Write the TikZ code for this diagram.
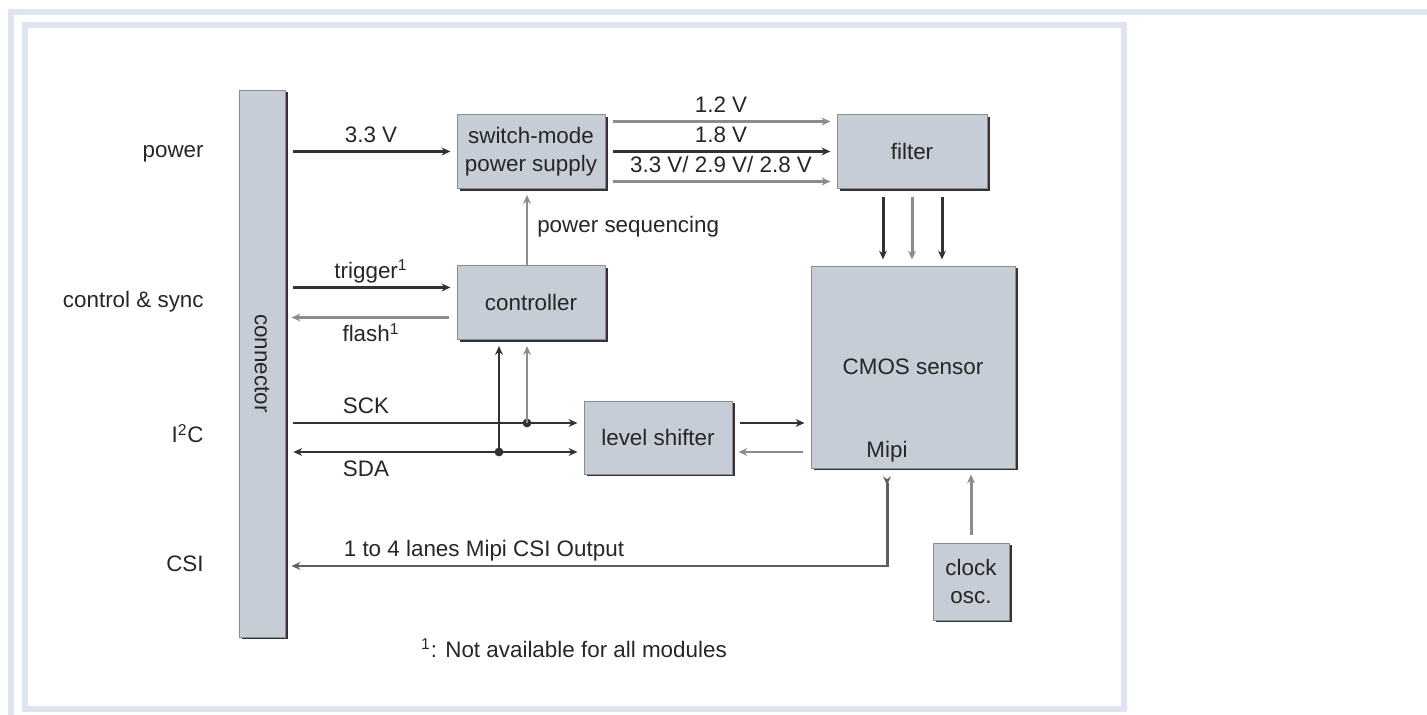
\documentclass[tikz,border=0pt]{standalone}
\usepackage{fontspec}
\setmainfont{Liberation Sans}
\usepackage{graphicx}
\usetikzlibrary{arrows.meta, positioning, calc, shadows}
\definecolor{boxgrey}{RGB}{198,205,214}
\definecolor{framegrey}{RGB}{223,229,240}
\definecolor{wiredark}{RGB}{50,50,50}
\definecolor{wiremid}{RGB}{95,95,95}
\definecolor{wirelight}{RGB}{140,140,140}

\begin{document}
\begin{tikzpicture}[
    font=\fontsize{12.75}{16}\selectfont, text=black!85,
    >={Stealth[length=5pt, width=4.5pt]},
    blk/.style={rectangle, draw=black!45, line width=0.5pt, fill=boxgrey,
                align=center, inner sep=2pt,
                drop shadow={shadow xshift=1.7pt, shadow yshift=-1.4pt,
                             fill=black!80, opacity=1}},
    sig/.style={line width=1.7pt, ->, shorten <=4.5pt, shorten >=3.5pt},
    drk/.style={draw=wiredark},
    mid/.style={draw=wiremid},
    lgt/.style={draw=wirelight},
    lbl/.style={inner sep=0pt, text height=9pt, text depth=2.5pt},
    side/.style={anchor=east, inner sep=0pt, text height=9pt, text depth=2.5pt},
    jdot/.style={circle, fill=wiredark, inner sep=0pt, minimum size=5pt}]

\useasboundingbox (0,0) rectangle (28.54,-14.3);

%% ── Page frame ───────────────────────────────────────────────────────────────
\fill[framegrey] (0.16,-0.18) rectangle (28.54,-0.30);
\fill[framegrey] (0.16,-0.18) rectangle (0.28,-14.3);
\draw[framegrey, line width=0.12cm] (0.5,-0.5) rectangle (22.48,-14.18);

%% ── Interface names ──────────────────────────────────────────────────────────
\node[side] (lpwr) at (4.08,-3.04) {power};
\node[side] (lctl) at (4.08,-6.04) {control \& sync};
\node[side] (li2c) at (4.08,-8.74) {I\textsuperscript{2}C};
\node[side] (lcsi) at (4.08,-11.32) {CSI};

%% ── Blocks ───────────────────────────────────────────────────────────────────
\node[blk, minimum width=0.92cm, minimum height=10.94cm] (conn) at (5.24,-7.27)
    {\rotatebox{-90}{connector}};

\node[blk, minimum width=2.96cm, minimum height=1.48cm] (smps) at (10.62,-3.03)
    {switch-mode\\power supply};

\node[blk, minimum width=3cm, minimum height=1.48cm] (filter) at (18.24,-3.03)
    {filter};

\node[blk, minimum width=2.96cm, minimum height=1.48cm] (ctrl) at (10.62,-6.05)
    {controller};

\node[blk, minimum width=2.96cm, minimum height=1.46cm] (lvl) at (13.16,-8.75)
    {level shifter};

\node[blk, minimum width=4.08cm, minimum height=4.04cm] (cmos) at (18.26,-7.34)
    {CMOS sensor};

\node[blk, minimum width=1.52cm, minimum height=1.54cm] (clk) at (19.42,-11.63)
    {clock\\osc.};

\node (mipitxt) at (17.74,-9.04) {Mipi};

%% ── Power path ───────────────────────────────────────────────────────────────
\draw[sig, drk] (conn.east |- smps)
    -- node[lbl, above=2pt]{3.3 V}
    (smps.west);

\draw[sig, lgt] ([yshift=0.6cm]smps.east)
    -- node[lbl, above=2pt]{1.2 V}
    ([yshift=0.6cm]filter.west);

\draw[sig, drk] (smps.east)
    -- node[lbl, above=2pt]{1.8 V}
    (filter.west);

\draw[sig, lgt] ([yshift=-0.6cm]smps.east)
    -- node[lbl, above=2pt]{3.3 V/ 2.9 V/ 2.8 V}
    ([yshift=-0.6cm]filter.west);

%% filter to sensor
\coordinate (fa) at ([xshift=-0.58cm]filter.south);
\coordinate (fb) at (filter.south);
\coordinate (fc) at ([xshift=0.6cm]filter.south);
\draw[sig, drk] (fa) -- (fa |- cmos.north);
\draw[sig, lgt] (fb) -- (fb |- cmos.north);
\draw[sig, drk] (fc) -- (fc |- cmos.north);

%% ── Control & sync ───────────────────────────────────────────────────────────
\coordinate (seq) at ([xshift=-0.08cm]ctrl.north);
\draw[sig, lgt, shorten <=0pt] (seq)
    -- node[lbl, right=5pt]{power sequencing}
    (seq |- smps.south);

\coordinate (trg) at ([yshift=0.3cm]ctrl.west);
\coordinate (fls) at ([yshift=-0.3cm]ctrl.west);

\draw[sig, drk] (conn.east |- trg)
    -- node[lbl, above=2pt]{trigger\textsuperscript{1}}
    (trg);

\draw[sig, lgt] (fls)
    -- node[lbl, below=4pt]{flash\textsuperscript{1}}
    (conn.east |- fls);

%% ── I2C ──────────────────────────────────────────────────────────────────────
\coordinate (sck) at ([yshift=0.29cm]lvl.west);
\coordinate (sda) at ([yshift=-0.29cm]lvl.west);
\coordinate (ctla) at ([xshift=-0.64cm]ctrl.south);
\coordinate (ctlb) at ([xshift=-0.08cm]ctrl.south);

\draw[sig, drk] (conn.east |- sck)
    -- node[lbl, above=2pt, pos=0.27]{SCK}
    (sck);

\draw[sig, drk, <->] (conn.east |- sda)
    -- node[lbl, below=4pt, pos=0.27]{SDA}
    (sda);

\node[jdot] (ja) at (ctla |- sda) {};
\node[jdot] (jb) at (ctlb |- sck) {};
\draw[sig, drk, shorten <=0pt] (ja.center) -- (ctla);
\draw[sig, lgt, shorten <=0pt] (jb.center) -- (ctlb);

%% level shifter to sensor
\draw[sig, drk] (sck -| lvl.east) -- (sck -| cmos.west);
\draw[sig, lgt] (sda -| cmos.west) -- (sda -| lvl.east);

%% ── CSI output and clock ─────────────────────────────────────────────────────
\coordinate (mipi) at ([xshift=-0.52cm]cmos.south);
\draw[sig, mid, {Stealth[length=5pt, width=4.5pt, reversed]}-{Stealth[length=5pt, width=4.5pt]}]
    (mipi)
    |- node[lbl, above=2pt, pos=0.835]{1 to 4 lanes Mipi CSI Output}
    (conn.east |- lcsi);

\draw[sig, lgt] (clk.north) -- (clk.north |- cmos.south);

%% footnote
\node (note) at (11.48,-12.96) {\textsuperscript{1}: Not available for all modules};

\end{tikzpicture}
\end{document}
